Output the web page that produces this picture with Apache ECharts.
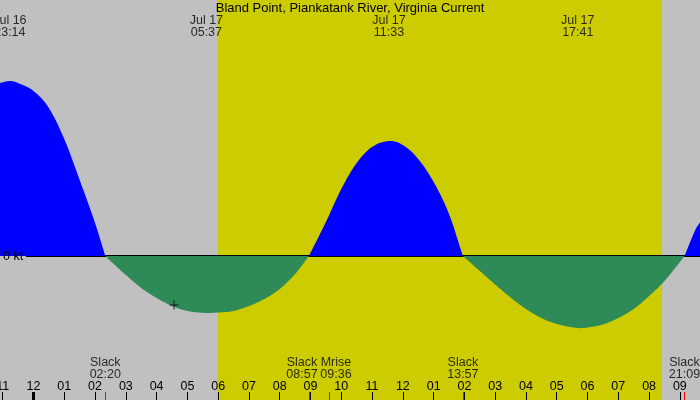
<!DOCTYPE html>
<html>
<head>
<meta charset="utf-8">
<title>Bland Point, Piankatank River, Virginia Current</title>
<script src="https://cdn.jsdelivr.net/npm/echarts@6/dist/echarts.min.js"></script>
<style>
  html, body { margin: 0; padding: 0; background: #c0c0c0; }
  #chart { width: 700px; height: 400px; }
</style>
</head>
<body>
<div id="chart"></div>
<script>
// x = hours from midnight Jul 17, y = current in knots (flood +, ebb -)
const flood1 = [
  [-1.09, 1.73], [-0.77, 1.75], [-0.5, 1.73], [0, 1.65], [0.5, 1.48], [1.0, 1.17],
  [1.5, 0.76], [2.0, 0.33], [2.333, 0]
];
const ebb1 = [
  [2.333, 0], [2.5, -0.05], [3.0, -0.19], [3.5, -0.32], [4.0, -0.42], [4.5, -0.50], [5.0, -0.55],
  [5.617, -0.57], [6.0, -0.565], [6.5, -0.55], [7.0, -0.50], [7.5, -0.43], [8.0, -0.33],
  [8.5, -0.18], [8.95, 0]
];
const flood2 = [
  [8.95, 0], [9.5, 0.34], [10.0, 0.67], [10.5, 0.93], [11.0, 1.09], [11.55, 1.15],
  [12.0, 1.11], [12.5, 0.97], [13.0, 0.74], [13.5, 0.42], [13.95, 0]
];
const ebb2 = [
  [13.95, 0], [14.5, -0.15], [15.0, -0.285], [15.5, -0.415], [16.0, -0.53], [16.5, -0.62], [17.0, -0.68],
  [17.683, -0.72], [18.0, -0.715], [18.5, -0.685], [19.0, -0.62], [19.5, -0.53],
  [20.0, -0.40], [20.5, -0.25], [21.0, -0.06], [21.15, 0]
];
const flood3 = [
  [21.15, 0], [21.5, 0.26], [21.66, 0.34]
];

// max / min current times (top labels)
const extremeTimes = [-0.767, 5.617, 11.55, 17.683];
const extremeDates = ['Jul 16', 'Jul 17', 'Jul 17', 'Jul 17'];
const extremeClock = ['23:14', '05:37', '11:33', '17:41'];

// slack water and moon rise (bottom labels, red ticks)
const eventTimes = [2.333, 8.95, 9.6, 13.95, 21.15];
const eventNames = ['Slack', 'Slack', 'Mrise', 'Slack', 'Slack'];
const eventClock = ['02:20', '08:57', '09:36', '13:57', '21:09'];

// hour ticks
const hourTicks = [-1, 0, 1, 2, 3, 4, 5, 6, 7, 8, 9, 10, 11, 12, 13, 14, 15, 16, 17, 18, 19, 20, 21];
const hourLabels = ['11', '12', '01', '02', '03', '04', '05', '06', '07', '08', '09', '10', '11',
  '12', '01', '02', '03', '04', '05', '06', '07', '08', '09'];

const daylight = [5.98, 20.42];   // sunrise, sunset
const nowPoint = [4.565, -0.49];  // current time marker

const X_MIN = -1.088, X_MAX = 21.654;
const FONT = 'Liberation Sans';
const FS = 12.5;
const BLUE = '#0000ff', GREEN = '#2e8b57', YELLOW = '#cccc00';

const phases = [flood1, ebb1, flood2, ebb2, flood3];
const phaseColors = [BLUE, GREEN, BLUE, GREEN, BLUE];

function tickAxis(values, color, width) {
  return {
    type: 'value', min: X_MIN, max: X_MAX, position: 'bottom', z: 5,
    axisLine: { show: false, onZero: false },
    splitLine: { show: false },
    axisTick: { show: true, inside: true, length: 8, customValues: values, lineStyle: { color: color, width: width } },
    axisLabel: { show: false }
  };
}

var hourAxis = tickAxis(hourTicks, '#000', 1);
hourAxis.axisLabel = {
  show: true, inside: true, margin: 7, customValues: hourTicks,
  color: '#000', fontSize: FS, fontFamily: FONT,
  formatter: function (v) { return hourLabels[hourTicks.indexOf(Math.round(v))]; }
};

// nudge labels of events that are too close together
var eventData = eventTimes.map(function (t, i) {
  var off = 0;
  if (i > 0 && t - eventTimes[i - 1] < 1.1) off = 7;
  if (i < eventTimes.length - 1 && eventTimes[i + 1] - t < 1.1) off = -7;
  return {
    value: [t, -1.13],
    label: { offset: [off, 0] },
    name: eventNames[i] + '\n' + eventClock[i]
  };
});

var extremeData = extremeTimes.map(function (t, i) {
  return { value: [t, 2.29], name: extremeDates[i] + '\n' + extremeClock[i] };
});

var labelStyle = {
  show: true, position: 'inside', color: '#000', fontSize: FS, fontFamily: FONT,
  lineHeight: 12, align: 'center', verticalAlign: 'middle',
  formatter: function (p) { return p.name; }
};

// filled area between the curve and 0 kt, smooth cubic through the read points
function renderPhase(params, api) {
  var pts = phases[params.dataIndex].map(function (p) { return api.coord(p); });
  var base = api.coord([0, 0])[1];
  var n = pts.length;
  var slope = pts.map(function (p, i) {
    var a = pts[Math.max(i - 1, 0)], b = pts[Math.min(i + 1, n - 1)];
    return (b[1] - a[1]) / (b[0] - a[0]);
  });
  var poly = [[pts[0][0], base], pts[0]];
  for (var i = 0; i < n - 1; i++) {
    var x0 = pts[i][0], y0 = pts[i][1], x1 = pts[i + 1][0], y1 = pts[i + 1][1];
    var dx = x1 - x0;
    var c1y = y0 + slope[i] * dx / 3, c2y = y1 - slope[i + 1] * dx / 3;
    for (var k = 1; k <= 10; k++) {
      var t = k / 10, u = 1 - t;
      poly.push([
        x0 + dx * t,
        u * u * u * y0 + 3 * u * u * t * c1y + 3 * u * t * t * c2y + t * t * t * y1
      ]);
    }
  }
  poly.push([pts[n - 1][0], base]);
  return {
    type: 'polygon',
    shape: { points: poly },
    style: { fill: phaseColors[params.dataIndex], stroke: null }
  };
}

var myChart = echarts.init(document.getElementById('chart'));
myChart.setOption({
  backgroundColor: '#c0c0c0',
  animation: false,
  title: {
    text: 'Bland Point, Piankatank River, Virginia Current',
    left: 'center', top: 2, padding: 0,
    textStyle: { fontSize: 13, fontWeight: 'normal', color: '#000', fontFamily: FONT }
  },
  grid: { left: 0, right: 0, top: 0, bottom: 0, outerBoundsMode: 'none', containLabel: false },
  xAxis: [
    hourAxis,
    tickAxis([0], '#000', 3),
    tickAxis(eventTimes, '#ff0000', 1)
  ],
  yAxis: {
    type: 'value', min: -1.44, max: 2.56, z: 5,
    axisLine: { show: false }, axisTick: { show: false }, splitLine: { show: false },
    axisLabel: {
      inside: true, margin: 3, customValues: [0], color: '#000', fontSize: FS, fontFamily: FONT,
      verticalAlign: 'top', lineHeight: 12, padding: [-5, 0, 0, 0],
      formatter: function () { return '0 kt'; }
    }
  },
  series: [
    {
      // daylight band and 0 kt line
      type: 'line', data: [], silent: true, z: 1,
      markArea: {
        silent: true, z: 0,
        itemStyle: { color: YELLOW, opacity: 1 },
        data: [[{ xAxis: daylight[0] }, { xAxis: daylight[1] }]]
      },
      markLine: {
        silent: true, z: 1, symbol: ['none', 'none'], label: { show: false },
        lineStyle: { color: '#000', width: 2, type: 'solid' },
        data: [[{ coord: [-0.244, 0] }, { coord: [X_MAX, 0] }]]
      }
    },
    {
      type: 'custom', silent: true, z: 2,
      data: phases.map(function (p) { return [p[0][0], 0]; }),
      encode: { x: 0, y: 1 },
      renderItem: renderPhase
    },
    {
      type: 'scatter', data: extremeData, symbolSize: 0, silent: true, z: 6, label: labelStyle
    },
    {
      type: 'scatter', data: eventData, symbolSize: 0, silent: true, z: 6, label: labelStyle
    },
    {
      type: 'scatter', data: [nowPoint], silent: true, z: 6,
      symbol: 'path://M4,0H5V9H4ZM0,4H9V5H0Z', symbolSize: [9, 9],
      itemStyle: { color: '#000' }
    }
  ]
});
</script>
</body>
</html>
